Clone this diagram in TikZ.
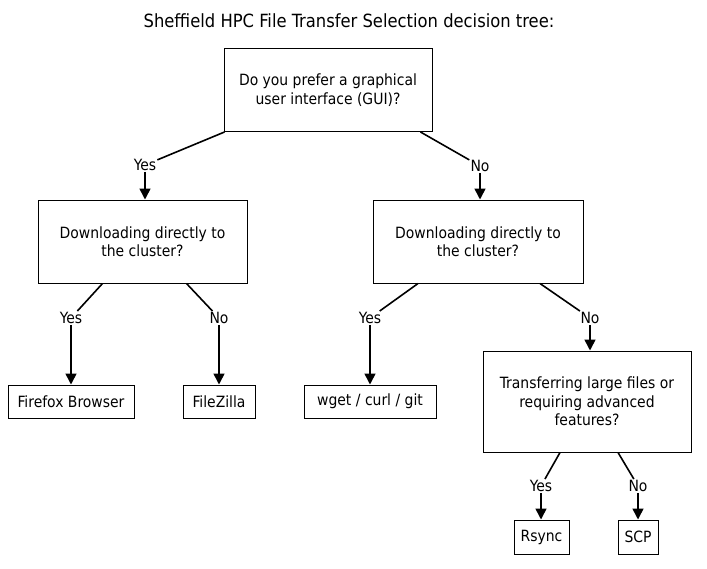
\documentclass[tikz,border=0pt]{standalone}
\usepackage{fontspec}
\setmainfont{DejaVu Sans Condensed}
\usetikzlibrary{arrows.meta}
\begin{document}
\begin{tikzpicture}[x=1pt,y=-1pt,
  txt/.style={font=\fontsize{15.5}{18.5}\selectfont},
  box/.style={txt,draw=black,line width=1pt,align=center,inner sep=0pt},
  lbl/.style={txt,fill=white,inner sep=1pt},
  conn/.style={line width=1.6pt},
  arr/.style={conn,-{Triangle[length=11pt,width=11pt]}}]
\useasboundingbox (0,0) rectangle (707,568);
\node[font=\fontsize{18.2}{22}\selectfont] (title) at (349,21) {Sheffield HPC File Transfer Selection decision tree:};
\node[box,minimum width=208pt,minimum height=83pt] (root) at (328,90) {Do you prefer a graphical\\user interface (GUI)?};
\node[box,minimum width=209pt,minimum height=83pt] (L) at (142.5,241.5) {Downloading directly to\\the cluster?};
\node[box,minimum width=210pt,minimum height=83pt] (R) at (478,241.5) {Downloading directly to\\the cluster?};
\node[box,minimum width=208pt,minimum height=101pt] (T) at (587,401.5) {Transferring large files or\\requiring advanced\\features?};
\node[box,minimum width=126pt,minimum height=33pt] (ff) at (71,401.5) {Firefox Browser};
\node[box,minimum width=72pt,minimum height=33pt] (fz) at (219,401.5) {FileZilla};
\node[box,minimum width=132pt,minimum height=33pt] (wg) at (370,401.5) {wget / curl / git};
\node[box,minimum width=55pt,minimum height=34pt] (rs) at (541.5,537) {Rsync};
\node[box,minimum width=40pt,minimum height=34pt] (scp) at (638,537) {SCP};
% labels
\node[lbl] (l1) at (145,165) {Yes};
\node[lbl] (l2) at (480,166) {No};
\node[lbl] (l3) at (71,318) {Yes};
\node[lbl] (l4) at (219,318) {No};
\node[lbl] (l5) at (370,318) {Yes};
\node[lbl] (l6) at (590,318) {No};
\node[lbl] (l7) at (541,486) {Yes};
\node[lbl] (l8) at (638,486) {No};
% connectors
\draw[conn] ([xshift=1pt]root.south west) -- (l1);
\draw[arr] (l1.south) -- (l1.south |- L.north);
\draw[conn] ([xshift=-12pt]root.south east) -- (l2);
\draw[arr] (l2.south) -- (l2.south |- R.north);
\draw[conn] ([xshift=-40pt]L.south) -- (l3);
\draw[arr] (l3.south) -- (l3.south |- ff.north);
\draw[conn] ([xshift=44pt]L.south) -- (l4);
\draw[arr] (l4.south) -- (l4.south |- fz.north);
\draw[conn] ([xshift=-60pt]R.south) -- (l5);
\draw[arr] (l5.south) -- (l5.south |- wg.north);
\draw[conn] ([xshift=62pt]R.south) -- (l6);
\draw[arr] (l6.south) -- (l6.south |- T.north);
\draw[conn] ([xshift=-27pt]T.south) -- (l7);
\draw[arr] (l7.south) -- (l7.south |- rs.north);
\draw[conn] ([xshift=31pt]T.south) -- (l8);
\draw[arr] (l8.south) -- (l8.south |- scp.north);
\end{tikzpicture}
\end{document}
